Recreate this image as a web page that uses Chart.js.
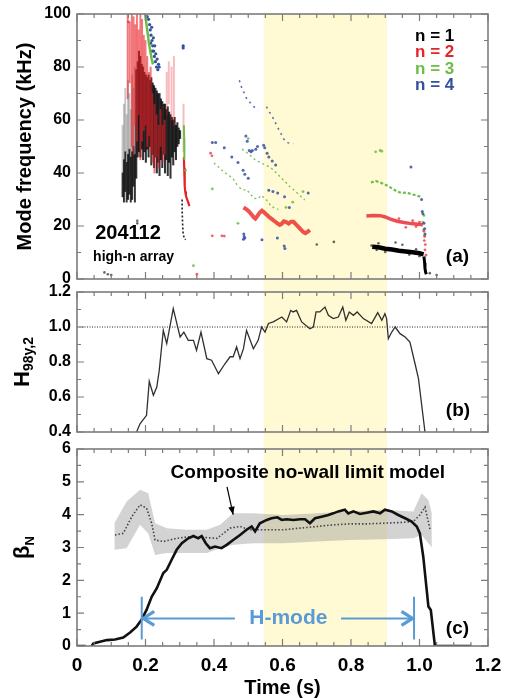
<!DOCTYPE html>
<html><head><meta charset="utf-8">
<script src="https://cdn.jsdelivr.net/npm/chart.js@4.4.1/dist/chart.umd.min.js"></script>
<style>
html,body{margin:0;padding:0;background:#fff;}
#wrap{position:relative;width:505px;height:698px;overflow:hidden;}
canvas{position:absolute;left:0;}
</style></head>
<body><div id="wrap">
<canvas id="ca" width="505" height="290" style="top:0px"></canvas>
<canvas id="cb" width="505" height="164" style="top:280px"></canvas>
<canvas id="cc" width="505" height="260" style="top:438px"></canvas>
</div>
<script>
// ---------------- DATA ----------------
const xTickLabels = ['0','0.2','0.4','0.6','0.8','1.0','1.2'];
const modeLabels = ['n = 1','n = 2','n = 3','n = 4'];
const modeColors = ['#000000','#e8222a','#6cbd45','#34509f'];
const shadeStart = 0.545, shadeEnd = 0.905;

// panel (a): n=1 dense chirp streaks (floating ranges, kHz)
const n1StreakT  = [0.173,0.177,0.181,0.185,0.189,0.193,0.197,0.201,0.205,0.209,0.213,0.217,0.221,0.225,0.229,0.233,0.237,0.241,0.245,0.249,0.253,0.257,0.261,0.265,0.269,0.273,0.277,0.281,0.285,0.289,0.293,0.297,0.301];
const n1StreakLo = [38,46,48,46,49,45,48,44,49,46,50,43,47,42,46,40,44,39,45,42,47,40,45,39,44,38,46,43,48,45,50,51,53];
const n1StreakHi = [79,82,86,84,81,80,78,77,76,77,75,76,74,73,72,71,70,70,68,67,66,66,64,65,63,62,61,60,61,58,59,57,56];
// n=1 low lobe (dense lower part + faint upper part)
const n1LobeT   = [0.133,0.137,0.141,0.145,0.149,0.153,0.157,0.161,0.165,0.169];
const n1LobeLo  = [31,29,33,29,30,32,29,30,35,29];
const n1LobeMid = [40,45,48,44,47,49,46,48,50,47];
const n1LobeHi  = [58,66,72,62,75,70,64,77,72,80];
// n=2 streaks
const n2StreakT  = [0.148,0.154,0.160,0.165,0.170,0.175,0.180,0.185,0.190,0.195,0.200,0.205,0.210,0.215,0.220,0.226,0.232,0.238,0.244,0.250,0.256];
const n2StreakLo = [68,74,50,47,58,52,62,45,52,56,58,50,54,48,44,40,46,42,50,44,47];
const n2StreakHi = [100,97,100,99,96,100,94,100,98,92,90,84,78,80,70,66,62,58,64,58,60];
const n2SparseT  = [0.262,0.268,0.276,0.283,0.311];
const n2SparseLo = [62,66,60,58,48];
const n2SparseHi = [78,82,80,84,66];

// traces (time s, frequency kHz)
const n1EarlyTrace = [[0.307,30],[0.307,26],[0.308,22],[0.309,19],[0.31,17],[0.313,15.5],[0.317,14.8]];
const n1LateTrace  = [[0.862,12.2],[0.88,12],[0.9,11.4],[0.92,11.1],[0.94,10.7],[0.96,10.4],[0.98,10.1],[1.0,9.7],[1.012,9.3]];
const n1LateDrop   = [[1.013,8.5],[1.015,6],[1.016,4],[1.018,2.5],[1.02,1.8]];
const n1Dots = [[0.176,22],[0.176,21],[0.08,2.5],[0.09,1.8],[0.1,1.5],[0.88,13.5],[0.93,13.8],[0.95,12.9],[0.9,10.2],[0.99,11.2],[1.0,8.6],[1.03,2.2],[0.97,9.2],[0.875,11],[0.86,12.6],[1.05,1.5],[0.75,14],[0.7,13]];

const n2EarlyTrace = [[0.312,46],[0.313,42],[0.314,38],[0.315,35],[0.316,33],[0.318,31.5],[0.321,30.2],[0.325,28.8],[0.328,27.5]];
const n2MidTrace = [[0.486,27.0],[0.494,26.4],[0.502,25.5],[0.509,24.4],[0.516,23.3],[0.521,22.8],[0.527,23.8],[0.533,25.0],[0.54,25.8],[0.546,25.2],[0.553,24.3],[0.561,23.4],[0.569,22.6],[0.577,21.8],[0.585,21.0],[0.592,20.4],[0.598,20.9],[0.604,21.8],[0.611,21.5],[0.618,20.9],[0.625,21.6],[0.632,21.6],[0.64,20.5],[0.647,19.6],[0.654,18.6],[0.661,17.7],[0.667,17.3],[0.674,17.9],[0.68,18.5]];
const n2LateTrace = [[0.845,23.8],[0.865,24],[0.885,23.9],[0.9,23.4],[0.915,22.6],[0.935,21.8],[0.955,21.3],[0.975,20.9],[0.995,20.7],[1.01,20.5]];
const n2Dots = [[0.15,97],[0.39,47.5],[0.394,46.5],[0.395,16.3],[0.423,16.3],[0.43,16.2],[0.35,1.8],[1.013,18],[1.015,16],[1.017,13],[1.016,11],[1.019,9],[1.014,14.5],[0.96,19.5],[0.99,19.8],[1.0,21.5],[0.98,22],[0.94,22.8]];

const n3EarlyTrace  = [[0.199,100],[0.203,96],[0.207,92],[0.21,89],[0.214,86],[0.218,83],[0.222,81]];
const n3EarlyTrace2 = [[0.312,58],[0.313,53],[0.313,48],[0.314,45]];
const n3Mid1 = [[0.4,43.8],[0.413,42.3],[0.427,40.6],[0.442,39.2],[0.456,37.8],[0.466,35.8],[0.472,34.8]];
const n3Mid2 = [[0.482,49],[0.5,47.3],[0.52,45],[0.54,43.6],[0.564,42.2],[0.58,40.3],[0.593,38.6],[0.607,36.8],[0.622,34.8],[0.64,32.8],[0.655,31],[0.665,29.8]];
const n3Mid3 = [[0.474,34.5],[0.485,33.5],[0.495,33.8],[0.505,32.2],[0.517,30.5],[0.528,30.2],[0.538,31.6],[0.548,30.5],[0.558,29.2],[0.566,27.5],[0.576,26.8],[0.588,26.3]];
const n3LateTrace = [[0.858,36.4],[0.872,37],[0.887,36.3],[0.902,35.5],[0.917,34.4],[0.932,33.2],[0.947,32.5],[0.962,32.6],[0.977,32],[0.992,31.5],[1.004,31]];
const n3Dots = [[0.317,41],[0.61,27],[0.63,29],[0.5,53],[0.66,33],[0.395,34],[0.47,21],[0.872,48],[0.885,48.5],[0.89,48.2],[1.01,21.5],[1.012,18.5],[1.015,16.5],[1.013,24],[0.34,5]];

const n4EarlyDots = [[0.205,99],[0.209,98],[0.212,96],[0.214,94],[0.216,92],[0.218,95],[0.219,90],[0.221,88],[0.223,91],[0.224,86],[0.226,84],[0.227,88],[0.229,82],[0.23,85],[0.232,80],[0.234,83],[0.236,79],[0.238,81],[0.24,80],[0.215,89],[0.22,86],[0.31,88],[0.31,87.2]];
const n4Mid1 = [[0.474,75],[0.48,72.5],[0.487,70.5],[0.495,68.2],[0.505,66.6],[0.515,65.2],[0.528,63.6]];
const n4Mid2 = [[0.553,65],[0.562,63],[0.57,61.4],[0.578,59.3],[0.586,57.2],[0.595,55],[0.603,53],[0.61,51.6],[0.622,51.2],[0.632,51]];
const n4Dots = [[0.395,51.5],[0.405,51.5],[0.43,49.5],[0.452,46],[0.47,44],[0.493,54],[0.497,52],[0.503,48.5],[0.508,48],[0.512,48.5],[0.522,49],[0.527,50],[0.545,50.5],[0.548,49.5],[0.555,47.5],[0.56,46],[0.57,44.5],[0.58,43],[0.485,41],[0.49,39.5],[0.5,38],[0.56,33.5],[0.572,33],[0.586,32.5],[0.606,31],[0.62,27],[0.675,32.5],[0.487,17],[0.488,16],[0.49,15.5],[0.486,15],[0.54,14.8],[0.605,12.5],[0.607,11.5],[0.585,15.5],[0.975,42.3],[1.006,30],[1.008,25.5],[1.01,24.6],[1.013,21],[1.015,19],[1.016,17]];

// panel (b): H98y,2
const h98T = [0.174,0.184,0.203,0.211,0.223,0.233,0.24,0.252,0.262,0.281,0.301,0.312,0.325,0.34,0.349,0.362,0.379,0.393,0.413,0.432,0.447,0.456,0.466,0.476,0.486,0.495,0.515,0.529,0.539,0.549,0.559,0.573,0.598,0.612,0.624,0.631,0.641,0.656,0.68,0.69,0.698,0.709,0.724,0.734,0.748,0.763,0.776,0.785,0.795,0.807,0.818,0.836,0.86,0.878,0.89,0.899,0.904,0.909,0.919,0.929,0.943,0.958,0.972,0.987,0.997,1.016];
const h98V = [0.4,0.447,0.495,0.69,0.61,0.657,0.75,0.98,0.905,1.105,0.943,0.971,0.924,0.924,0.867,0.971,0.819,0.81,0.733,0.79,0.83,0.83,0.886,0.819,0.876,0.98,0.876,0.924,1.0,0.971,1.02,1.029,1.057,1.029,1.095,1.086,1.095,1.029,0.99,1.0,1.086,1.086,1.114,1.067,1.048,1.057,1.114,1.038,1.086,1.067,1.086,1.048,1.019,1.082,1.038,1.076,1.048,0.933,0.971,1.0,0.962,0.943,0.914,0.79,0.705,0.4];
const h98Ref = 1.0;

// panel (c): beta_N and composite no-wall limit
const betaT = [0,0.025,0.035,0.043,0.048,0.067,0.087,0.111,0.135,0.155,0.174,0.189,0.203,0.218,0.233,0.252,0.262,0.276,0.291,0.306,0.325,0.34,0.354,0.364,0.376,0.388,0.403,0.422,0.437,0.456,0.476,0.495,0.51,0.52,0.534,0.554,0.568,0.585,0.598,0.612,0.632,0.651,0.666,0.68,0.695,0.714,0.734,0.748,0.763,0.782,0.792,0.807,0.826,0.846,0.865,0.885,0.899,0.919,0.938,0.958,0.977,0.992,1.001,1.011,1.021,1.026,1.033,1.045,1.152];
const betaV = [0,0,null,0,0.08,0.13,0.18,0.2,0.26,0.41,0.59,0.81,1.1,1.5,1.76,2.22,2.32,2.62,2.93,3.13,3.28,3.35,3.28,3.35,3.13,2.98,3.03,2.98,3.08,3.23,3.38,3.54,3.64,3.49,3.74,3.84,3.89,3.92,3.84,3.86,3.84,3.86,3.86,3.74,3.89,3.94,3.99,4.04,4.1,4.15,4.04,4.1,4.02,4.06,4.1,4.04,4.15,4.1,3.99,3.89,3.79,3.64,3.43,2.72,1.71,1.2,1.1,0,0];
const limitT = [0.111,0.135,0.16,0.184,0.203,0.218,0.228,0.252,0.291,0.33,0.369,0.409,0.447,0.476,0.505,0.554,0.603,0.651,0.7,0.748,0.797,0.846,0.894,0.943,0.982,1.001,1.016,1.031];
const limitV = [3.38,3.43,3.94,4.3,4.2,3.74,3.23,3.18,3.28,3.33,3.31,3.28,3.59,3.64,3.54,3.54,3.54,3.59,3.64,3.69,3.72,3.72,3.74,3.76,3.79,3.99,4.23,3.54];
const bandT  = [0.109,0.145,0.184,0.208,0.228,0.262,0.32,0.379,0.418,0.456,0.515,0.603,0.7,0.797,0.894,0.982,1.006,1.026,1.036];
const bandLo = [2.93,2.98,3.69,3.43,2.77,2.83,2.83,2.83,2.98,3.08,3.13,3.13,3.18,3.23,3.25,3.28,3.38,3.13,3.0];
const bandHi = [3.74,4.4,4.76,4.65,3.74,3.59,3.54,3.54,3.69,4.04,4.04,3.99,4.04,4.1,4.15,4.1,4.65,4.45,4.04];

// ---------------- HELPERS ----------------
const F = '"Liberation Sans", Arial, Helvetica, sans-serif';
const pts = arr => arr.map(p => ({x:p[0], y:p[1]}));
const zipXY = (t, v) => t.map((x,i) => ({x, y:v[i]}));
const ranges = (t, lo, hi) => t.map((x,i) => ({x, y:[lo[i], hi[i]]}));

function bars(data, color, thick){ return {type:'bar', data, backgroundColor:color, borderWidth:0, barThickness:thick, grouped:false}; }
function line(data, color, width, dash){ return {type:'line', data, borderColor:color, borderWidth:width, borderDash:dash||[], pointRadius:0, tension:0, fill:false, spanGaps:false}; }
function dots(data, color, r){ return {type:'scatter', data, backgroundColor:color, borderWidth:0, pointRadius:r, pointHoverRadius:r}; }
function noPad(s){ s.paddingTop = 0; s.paddingBottom = 0; s.paddingLeft = 0; s.paddingRight = 0; }

function makeShade(clipTop, clipBottom){
  return {id:'shade', beforeDraw(chart){
    const {ctx, chartArea:a, scales:{x}} = chart;
    const x0 = x.getPixelForValue(shadeStart), x1 = x.getPixelForValue(shadeEnd);
    const t = clipTop ? a.top : 0, b = clipBottom ? a.bottom : chart.height;
    ctx.save(); ctx.fillStyle = 'rgb(255,250,212)'; ctx.fillRect(x0, t, x1-x0, b-t); ctx.restore();
  }};
}
function makeFrame(yMinor, yMajor){
  return {id:'frame', afterDraw(chart){
    const {ctx, chartArea:a, scales:{x,y}} = chart;
    ctx.save(); ctx.strokeStyle = '#7c7c7c'; ctx.lineWidth = 1.2; ctx.beginPath();
    const nx = Math.round((x.max-x.min)/0.05);
    for (let i=0;i<=nx;i++){ const p = x.getPixelForValue(x.min+i*0.05); const L = i%4===0?7:4;
      ctx.moveTo(p,a.bottom); ctx.lineTo(p,a.bottom-L); ctx.moveTo(p,a.top); ctx.lineTo(p,a.top+L); }
    const ny = Math.round((y.max-y.min)/yMinor), r = Math.round(yMajor/yMinor);
    for (let i=0;i<=ny;i++){ const p = y.getPixelForValue(y.min+i*yMinor); const L = i%r===0?7:4;
      ctx.moveTo(a.left,p); ctx.lineTo(a.left+L,p); ctx.moveTo(a.right,p); ctx.lineTo(a.right-L,p); }
    ctx.stroke();
    ctx.lineWidth = 1.6; ctx.strokeRect(a.left, a.top, a.right-a.left, a.bottom-a.top);
    ctx.restore();
  }};
}
function label(ctx, text, px, py, size, color, align, base){
  ctx.font = 'bold '+size+'px '+F; ctx.fillStyle = color;
  ctx.textAlign = align||'left'; ctx.textBaseline = base||'middle'; ctx.fillText(text, px, py);
}
function subTitle(ctx, main, sub, cx, cy, s1, s2, drop){
  ctx.save(); ctx.translate(cx, cy); ctx.rotate(-Math.PI/2);
  ctx.font = 'bold '+s1+'px '+F; const w1 = ctx.measureText(main).width;
  ctx.font = 'bold '+s2+'px '+F; const w2 = ctx.measureText(sub).width;
  const s = -(w1+w2)/2; ctx.fillStyle = '#000'; ctx.textAlign = 'left'; ctx.textBaseline = 'alphabetic';
  ctx.font = 'bold '+s1+'px '+F; ctx.fillText(main, s, 0);
  ctx.font = 'bold '+s2+'px '+F; ctx.fillText(sub, s+w1, drop);
  ctx.restore();
}
function chevron(ctx, tx, ty, dir, len, half){
  ctx.beginPath(); ctx.moveTo(tx - dir*len, ty - half); ctx.lineTo(tx, ty); ctx.lineTo(tx - dir*len, ty + half); ctx.stroke();
}
const yTickFont = {family:F, size:16, weight:'bold'};
function baseOptions(pad, ymin, ymax, ystep, yfmt){
  return {
    responsive:false, animation:false, events:[],
    layout:{padding:pad},
    plugins:{legend:{display:false}, tooltip:{enabled:false}},
    scales:{
      x:{type:'linear', min:0, max:1.2, offset:false, grid:{display:false, drawTicks:false}, border:{display:false}, ticks:{display:false}, afterFit(s){ s.height = 0; noPad(s); }},
      y:{type:'linear', min:ymin, max:ymax, grid:{display:false, drawTicks:false}, border:{display:false},
         ticks:{stepSize:ystep, font:yTickFont, color:'#000', padding:6, callback:yfmt},
         afterFit(s){ s.width = 77; noPad(s); }}
    }
  };
}

// ---------------- PANEL (a) ----------------
const red = modeColors[1], green = modeColors[2], blue = modeColors[3];
const optA = baseOptions({left:0,right:17,top:14,bottom:11}, 0, 100, 20, v => String(v));
optA.scales.y.title = {display:true, text:'Mode frequency (kHz)', color:'#000', font:{family:F, size:20, weight:'bold', lineHeight:1}, padding:{top:15, bottom:0}};
new Chart(document.getElementById('ca'), {
  type:'scatter',
  data:{datasets:[
    line(pts(n2MidTrace), 'rgba(232,34,30,0.78)', 4),
    line(pts(n2LateTrace), 'rgba(232,34,42,0.8)', 3.5),
    line(pts(n1LateTrace), '#000', 4.5),
    line(pts(n1LateDrop), '#000', 3),
    dots(pts(n2Dots), 'rgba(232,34,42,0.7)', 1.4),
    dots(pts(n4Dots), 'rgba(52,80,159,0.85)', 1.5),
    dots(pts(n3Dots), 'rgba(108,189,69,0.85)', 1.4),
    dots(pts(n1Dots), 'rgba(0,0,0,0.6)', 1.3),
    line(pts(n3EarlyTrace), green, 2.5),
    line(pts(n3EarlyTrace2), green, 2),
    line(pts(n2EarlyTrace), red, 2.2),
    line(pts(n1EarlyTrace), '#222', 1.6, [2,2]),
    line(pts(n3Mid1), 'rgba(108,189,69,0.9)', 1.4, [2,3]),
    line(pts(n3Mid2), 'rgba(108,189,69,0.9)', 1.4, [2,3]),
    line(pts(n3Mid3), 'rgba(108,189,69,0.9)', 1.4, [2,3]),
    line(pts(n3LateTrace), green, 2.2, [3,2]),
    line(pts(n4Mid1), 'rgba(52,80,159,0.85)', 1.5, [2,4]),
    line(pts(n4Mid2), 'rgba(52,80,159,0.85)', 1.5, [2,4]),
    dots(pts(n4EarlyDots), blue, 1.6),
    bars(ranges(n2StreakT, n2StreakLo, n2StreakHi), 'rgba(232,30,36,0.6)', 1.3),
    bars(ranges(n2SparseT, n2SparseLo, n2SparseHi), 'rgba(232,30,36,0.3)', 1.3),
    bars(ranges(n1StreakT, n1StreakLo, n1StreakHi), 'rgba(0,0,0,0.8)', 1.4),
    bars(ranges(n1LobeT, n1LobeLo, n1LobeMid), 'rgba(0,0,0,0.8)', 1.3),
    bars(ranges(n1LobeT, n1LobeMid, n1LobeHi), 'rgba(0,0,0,0.22)', 1.3)
  ]},
  options:optA,
  plugins:[makeShade(true,false), makeFrame(10,20), {id:'annA', afterDraw(chart){
    const {ctx, scales:{x,y}} = chart; ctx.save();
    const lx = x.getPixelForValue(0.987);
    [91.7,85.7,79.2,73.2].forEach((v,i) => label(ctx, modeLabels[i], lx, y.getPixelForValue(v), 17, modeColors[i]));
    label(ctx, '204112', x.getPixelForValue(0.053), y.getPixelForValue(17), 20, '#000');
    label(ctx, 'high-n array', x.getPixelForValue(0.047), y.getPixelForValue(8.3), 14, '#000');
    label(ctx, '(a)', x.getPixelForValue(1.077), y.getPixelForValue(8.3), 19, '#000');
    ctx.restore();
  }}]
});

// ---------------- PANEL (b) ----------------
const optB = baseOptions({left:0,right:17,top:12,bottom:12}, 0.4, 1.2, 0.2, v => v.toFixed(1));
new Chart(document.getElementById('cb'), {
  type:'scatter',
  data:{datasets:[
    line(zipXY(h98T, h98V), '#303030', 1.3),
    line([{x:0,y:h98Ref},{x:1.2,y:h98Ref}], '#222', 1, [1,1.5])
  ]},
  options:optB,
  plugins:[makeShade(false,false), makeFrame(0.1,0.2), {id:'annB', afterDraw(chart){
    const {ctx, chartArea:a, scales:{x,y}} = chart;
    subTitle(ctx, 'H', '98y,2', 29, (a.top+a.bottom)/2, 22, 14, 4);
    ctx.save(); label(ctx, '(b)', x.getPixelForValue(1.077), y.getPixelForValue(0.524), 19, '#000'); ctx.restore();
  }}]
});

// ---------------- PANEL (c) ----------------
const optC = baseOptions({left:0,right:17,top:11,bottom:0}, 0, 6, 1, v => String(v));
optC.scales.x = {type:'linear', min:0, max:1.2, offset:false, grid:{display:false, drawTicks:false}, border:{display:false},
  ticks:{stepSize:0.2, font:{family:F, size:19, weight:'bold'}, color:'#000', padding:8, maxRotation:0, autoSkip:false,
         callback:v => xTickLabels[Math.round(v/0.2)]},
  title:{display:true, text:'Time (s)', color:'#000', font:{family:F, size:20, weight:'bold', lineHeight:1}, padding:{top:0,bottom:0}},
  afterFit(s){ s.height = 52; noPad(s); }};
new Chart(document.getElementById('cc'), {
  type:'scatter',
  data:{datasets:[
    line(zipXY(betaT, betaV), '#111', 2.6),
    line(zipXY(limitT, limitV), '#444', 1.6, [1.5,2]),
    Object.assign(line(zipXY(bandT, bandHi), 'rgba(0,0,0,0)', 0), {fill:'+1', backgroundColor:'rgba(150,150,150,0.42)'}),
    line(zipXY(bandT, bandLo), 'rgba(0,0,0,0)', 0)
  ]},
  options:optC,
  plugins:[makeShade(false,true), makeFrame(0.5,1), {id:'annC', afterDraw(chart){
    const {ctx, chartArea:a, scales:{x,y}} = chart;
    subTitle(ctx, 'β', 'N', 29, (a.top+a.bottom)/2, 22, 13, 5);
    ctx.save();
    label(ctx, '(c)', x.getPixelForValue(1.077), y.getPixelForValue(0.52), 19, '#000');
    label(ctx, 'Composite no-wall limit model', x.getPixelForValue(0.674), y.getPixelForValue(5.28), 19, '#000', 'center');
    const ax0 = x.getPixelForValue(0.438), ay0 = y.getPixelForValue(4.85), ax1 = x.getPixelForValue(0.456), ay1 = y.getPixelForValue(4.0);
    ctx.strokeStyle = '#000'; ctx.fillStyle = '#000'; ctx.lineWidth = 1.2;
    ctx.beginPath(); ctx.moveTo(ax0, ay0); ctx.lineTo(ax1, ay1); ctx.stroke();
    const ang = Math.atan2(ay1-ay0, ax1-ax0), L = 8, H = 3.2;
    ctx.beginPath(); ctx.moveTo(ax1, ay1);
    ctx.lineTo(ax1 - L*Math.cos(ang) - H*Math.sin(ang), ay1 - L*Math.sin(ang) + H*Math.cos(ang));
    ctx.lineTo(ax1 - L*Math.cos(ang) + H*Math.sin(ang), ay1 - L*Math.sin(ang) - H*Math.cos(ang));
    ctx.closePath(); ctx.fill();
    const hb = '#5b9bd5';
    const xl = x.getPixelForValue(0.189), xr = x.getPixelForValue(0.984), ya = y.getPixelForValue(0.84);
    const yt = y.getPixelForValue(1.5), yb = y.getPixelForValue(0.2);
    ctx.strokeStyle = hb; ctx.lineWidth = 2;
    ctx.beginPath(); ctx.moveTo(xl, yt); ctx.lineTo(xl, yb); ctx.moveTo(xr, yt); ctx.lineTo(xr, yb);
    ctx.moveTo(xl, ya); ctx.lineTo(x.getPixelForValue(0.461), ya);
    ctx.moveTo(x.getPixelForValue(0.771), ya); ctx.lineTo(xr, ya); ctx.stroke();
    ctx.lineWidth = 3.2; ctx.lineJoin = 'miter';
    chevron(ctx, xl + 1.5, ya, -1, 11, 7);
    chevron(ctx, xr - 1.5, ya, 1, 11, 7);
    label(ctx, 'H-mode', x.getPixelForValue(0.617), ya, 21, hb, 'center');
    ctx.restore();
  }}]
});
</script>
</body></html>
